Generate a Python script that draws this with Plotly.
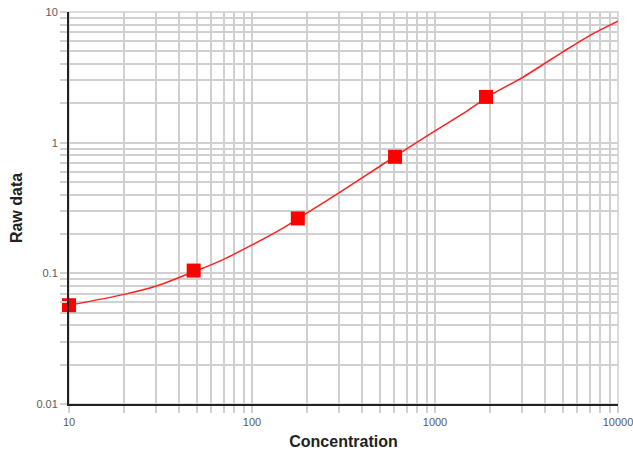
import plotly.graph_objects as go

# Standards (markers)
std_conc = [10, 48, 178, 605, 1900]
std_raw = [0.057, 0.105, 0.263, 0.78, 2.24]

# Fitted curve
curve_conc = [10, 20, 30, 40, 50, 70, 100, 150, 200, 300, 500, 700, 1000, 1500, 2000, 3000, 5000, 7000, 10000]
curve_raw = [0.057, 0.069, 0.080, 0.093, 0.105, 0.128, 0.165, 0.225, 0.29, 0.415, 0.66, 0.895, 1.23, 1.75, 2.3, 3.15, 4.95, 6.6, 8.5]

x_ticks = [10, 100, 1000, 10000]
x_ticklabels = ["10", "100", "1000", "10000"]
y_ticks = [0.01, 0.1, 1, 10]
y_ticklabels = ["0.01", "0.1", "1", "10"]

x_minor = [m * d for d in (10, 100, 1000) for m in range(2, 10)]
y_minor = [m * d for d in (0.01, 0.1, 1) for m in range(2, 10)]

grid = "#d0d0d0"
tickfont = dict(family="Arial, Liberation Sans, sans-serif", size=11, color="#5a5a5a")

fig = go.Figure()
fig.add_trace(go.Scatter(x=curve_conc, y=curve_raw, mode="lines",
                         line=dict(color="#ff2020", width=1.5, shape="spline", smoothing=0.8),
                         hoverinfo="skip", cliponaxis=False))
fig.add_trace(go.Scatter(x=std_conc, y=std_raw, mode="markers", cliponaxis=False,
                         marker=dict(symbol="square", size=14, color="#ff0000",
                                     line=dict(width=0))))

fig.add_shape(type="rect", xref="paper", yref="paper", x0=0, y0=0, x1=1, y1=1,
              line=dict(color="#cfcfcf", width=1.5), layer="below")

axis_common = dict(
    type="log",
    showgrid=True, gridcolor=grid, gridwidth=1.5,
    ticks="outside", ticklen=7, tickcolor=grid, tickwidth=1.5,
    showline=True, linecolor="#222222", linewidth=2,
    zeroline=False, automargin=False, tickfont=tickfont,
    ticklabeloverflow="allow",
)

fig.update_layout(
    template="none",
    width=633, height=452,
    margin=dict(l=69, r=15, t=12, b=48),
    paper_bgcolor="white", plot_bgcolor="white",
    showlegend=False,
    font=dict(family="Arial, Liberation Sans, sans-serif", color="#5a5a5a", size=11),
    xaxis=dict(
        axis_common, range=[1, 4],
        tickvals=x_ticks, ticktext=x_ticklabels,
        minor=dict(tickvals=x_minor, showgrid=True, gridcolor=grid, gridwidth=1.5,
                   ticks="outside", ticklen=7, tickcolor=grid, tickwidth=1.5),
        title=dict(text="<b>Concentration</b>",
                   font=dict(family="Arial, Liberation Sans, sans-serif", size=16, color="#222222"),
                   standoff=9),
    ),
    yaxis=dict(
        axis_common, range=[-2, 1],
        tickvals=y_ticks, ticktext=y_ticklabels,
        minor=dict(tickvals=y_minor, showgrid=True, gridcolor=grid, gridwidth=1.5,
                   ticks="outside", ticklen=7, tickcolor=grid, tickwidth=1.5),
        title=dict(text="<b>Raw data</b>",
                   font=dict(family="Arial, Liberation Sans, sans-serif", size=16, color="#222222"),
                   standoff=10),
    ),
)

fig.write_html("out.html", config={"displayModeBar": False},
               post_script="document.body.style.margin='0';document.body.style.overflow='hidden';")
